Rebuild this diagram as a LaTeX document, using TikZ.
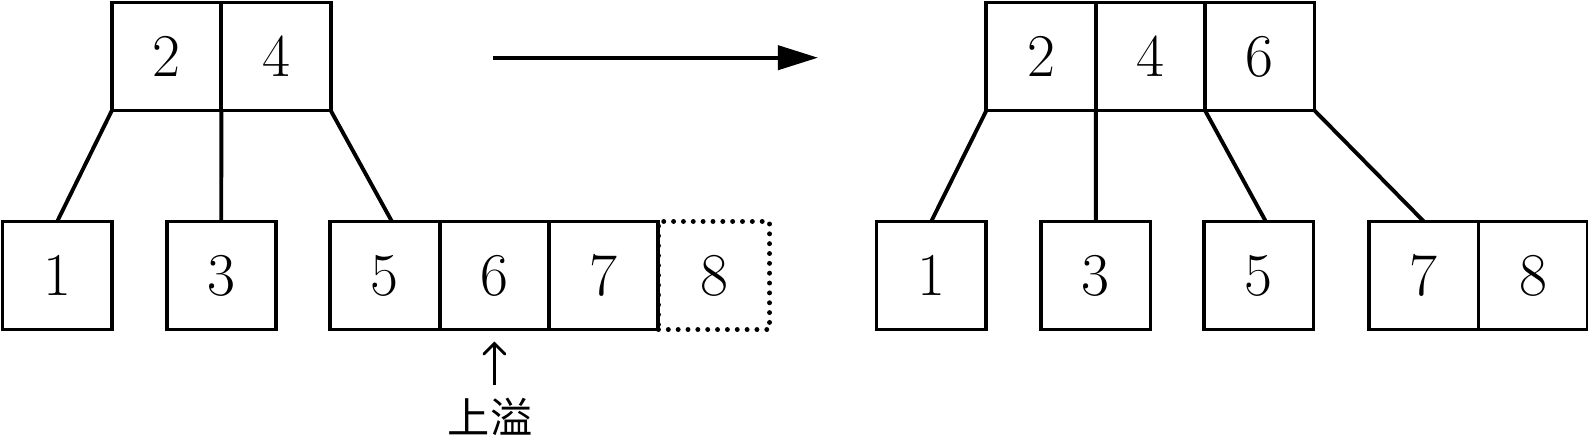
\documentclass[tikz,border=0pt]{standalone}
\usepackage{fontspec}
\newfontfamily\cjk{Noto Sans CJK SC}
\usetikzlibrary{arrows,arrows.meta}
\tikzset{every picture/.style={line width=1.1pt}}
\tikzstyle{cell}=[draw,rectangle,inner sep=0pt,outer sep=0pt,minimum width=1.094cm,minimum height=1.08cm,font=\fontsize{17}{20}\selectfont]
\tikzstyle{ghost}=[cell,dash pattern=on 0pt off 2.8pt,line cap=round,line width=1.4pt]

\begin{document}
\begin{tikzpicture}[x=0.01cm,y=0.01cm]
\useasboundingbox (0,0) rectangle (1588,436);
% before the split
\node[cell] (t2) at (166.6,379.5) {$2$};
\node[cell] (t4) at (276,379.5) {$4$};
\node[cell] (b1) at (57.2,160.5) {$1$};
\node[cell] (b3) at (221.3,160.5) {$3$};
\node[ghost,minimum width=1.11cm] (b8) at (714,160.5) {$8$};
\node[cell] (b5) at (384.9,160.5) {$5$};
\node[cell] (b6) at (494.3,160.5) {$6$};
\node[cell] (b7) at (603.6,160.5) {$7$};
\node[font=\cjk\fontsize{12}{14}\selectfont] (of) at (490,19) {上溢};
\coordinate (s) at (493,378.3);
\coordinate (e) at (818,378.3);
% after the split
\node[cell] (r2) at (1041.1,379.5) {$2$};
\node[cell] (r4) at (1150.4,379.5) {$4$};
\node[cell] (r6) at (1259.8,379.5) {$6$};
\node[cell] (c1) at (931.2,160.5) {$1$};
\node[cell] (c3) at (1095.8,160.5) {$3$};
\node[cell] (c5) at (1258.8,160.5) {$5$};
\node[cell] (c7) at (1423.8,160.5) {$7$};
\node[cell] (c8) at (1533.2,160.5) {$8$};
\path
(t2.south west) edge (b1.north)
(t2.south east) edge (b3.north)
(t4.south east) edge ([xshift=0.07cm]b5.north)
(r2.south west) edge (c1.north)
(r2.south east) edge (c3.north)
(r6.south west) edge ([xshift=0.07cm]c5.north)
(r6.south east) edge (c7.north);
\path[-{Triangle[length=4mm,width=2.4mm]}] (s) edge (e);
\path[->,>=angle 90,line width=0.8pt,shorten >=0.12cm]
(b6.south |- of.north) edge (b6.south);
\end{tikzpicture}
\end{document}
